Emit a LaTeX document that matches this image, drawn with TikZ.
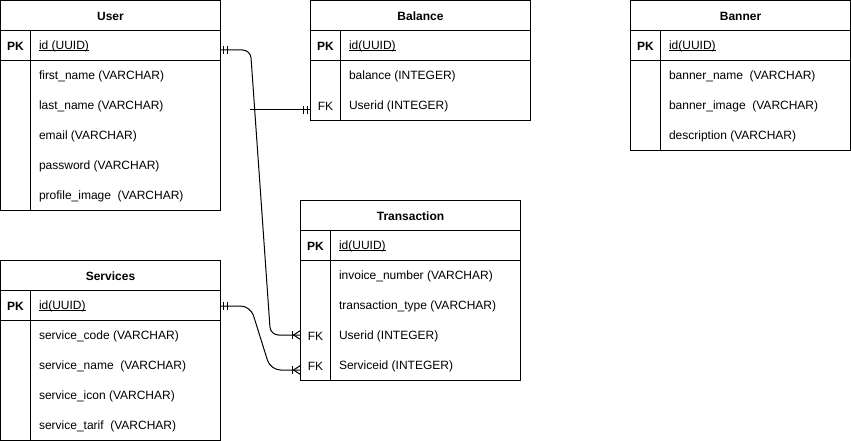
\documentclass[tikz,border=0pt]{standalone}
\usepackage{fontspec}
\setmainfont{Liberation Sans}
\usetikzlibrary{calc}

\newcommand\keyline[1]{\setbox0\hbox{#1}\rlap{\rule[-1.6pt]{\wd0}{0.8pt}}\box0}

\tikzset{
	title/.style={yshift=-1pt, font=\fontsize{12}{14}\selectfont\bfseries},
	pkey/.style={yshift=-1pt, font=\fontsize{12}{14}\selectfont\bfseries},
	fkey/.style={yshift=-1pt, font=\fontsize{12}{14}\selectfont},
	field/.style={yshift=-1pt, anchor=west, inner sep=0pt, font=\fontsize{12}{14}\selectfont},
	link/.style={rounded corners=8pt},
}

\begin{document}
\begin{tikzpicture}[x=1pt, y=-1pt, line width=1pt]
\useasboundingbox (0, 0) rectangle (851, 441);

% User
\draw (0.5, 0.5) rectangle (220.5, 210.5);
\draw (0.5, 30.5) -- (220.5, 30.5);
\draw (0.5, 60.5) -- (220.5, 60.5);
\draw (30.5, 30.5) -- (30.5, 210.5);
\node[title] (user) at (110.5, 15.5) {User};
\node[pkey] (user-pk) at (15.5, 45.5) {PK};
\node[field] (user-id) at (38.5, 45.5) {\keyline{id (UUID)}};
\foreach \t [count=\i] in {first\_name (VARCHAR), last\_name (VARCHAR), email (VARCHAR), password (VARCHAR), profile\_image\ \ (VARCHAR)}
	\node[field] (user-f\i) at (38.5, 45.5 + 30*\i) {\t};

% Balance
\draw (310.5, 0.5) rectangle (530.5, 120.5);
\draw (310.5, 30.5) -- (530.5, 30.5);
\draw (310.5, 60.5) -- (530.5, 60.5);
\draw (340.5, 30.5) -- (340.5, 120.5);
\node[title] (balance) at (420.5, 15.5) {Balance};
\node[pkey] (balance-pk) at (325.5, 45.5) {PK};
\node[field] (balance-id) at (348.5, 45.5) {\keyline{id(UUID)}};
\foreach \t [count=\i] in {balance (INTEGER), Userid (INTEGER)}
	\node[field] (balance-f\i) at (348.5, 45.5 + 30*\i) {\t};
\node[fkey] (balance-fk) at (325.5, 105.5) {FK};

% Banner
\draw (630.5, 0.5) rectangle (850.5, 150.5);
\draw (630.5, 30.5) -- (850.5, 30.5);
\draw (630.5, 60.5) -- (850.5, 60.5);
\draw (660.5, 30.5) -- (660.5, 150.5);
\node[title] (banner) at (740.5, 15.5) {Banner};
\node[pkey] (banner-pk) at (645.5, 45.5) {PK};
\node[field] (banner-id) at (668.5, 45.5) {\keyline{id(UUID)}};
\foreach \t [count=\i] in {banner\_name\ \ (VARCHAR), banner\_image\ \ (VARCHAR), description (VARCHAR)}
	\node[field] (banner-f\i) at (668.5, 45.5 + 30*\i) {\t};

% Transaction
\draw (300.5, 200.5) rectangle (520.5, 380.5);
\draw (300.5, 230.5) -- (520.5, 230.5);
\draw (300.5, 260.5) -- (520.5, 260.5);
\draw (330.5, 230.5) -- (330.5, 380.5);
\node[title] (trans) at (410.5, 215.5) {Transaction};
\node[pkey] (trans-pk) at (315.5, 245.5) {PK};
\node[field] (trans-id) at (338.5, 245.5) {\keyline{id(UUID)}};
\foreach \t [count=\i] in {invoice\_number (VARCHAR), transaction\_type (VARCHAR), Userid (INTEGER), Serviceid (INTEGER)}
	\node[field] (trans-f\i) at (338.5, 245.5 + 30*\i) {\t};
\node[fkey] (trans-fk1) at (315.5, 335.5) {FK};
\node[fkey] (trans-fk2) at (315.5, 365.5) {FK};

% Services
\draw (0.5, 260.5) rectangle (220.5, 440.5);
\draw (0.5, 290.5) -- (220.5, 290.5);
\draw (0.5, 320.5) -- (220.5, 320.5);
\draw (30.5, 290.5) -- (30.5, 440.5);
\node[title] (serv) at (110.5, 275.5) {Services};
\node[pkey] (serv-pk) at (15.5, 305.5) {PK};
\node[field] (serv-id) at (38.5, 305.5) {\keyline{id(UUID)}};
\foreach \t [count=\i] in {service\_code (VARCHAR), service\_name\ \ (VARCHAR), service\_icon (VARCHAR), service\_tarif\ \ (VARCHAR)}
	\node[field] (serv-f\i) at (38.5, 305.5 + 30*\i) {\t};

% connector ends
\coordinate (user-id-e) at (220.5, 50);
\coordinate (serv-id-e) at (220.5, 306);
\coordinate (trans-userid-w) at (300.5, 335);
\coordinate (trans-servid-w) at (300.5, 370);
\coordinate (balance-userid-w) at (310.5, 110);
\coordinate (balance-free) at (250, 110);

% User - Balance
\draw (balance-free) -- (balance-userid-w);
\draw ($(balance-userid-w) + (-3, -4)$) -- ++(0, 8);
\draw ($(balance-userid-w) + (-7, -4)$) -- ++(0, 8);

% User - Transaction
\draw[link] (user-id-e) -- ++(30, 0) -- ($(trans-userid-w) + (-30, 0)$) -- (trans-userid-w);
\draw ($(user-id-e) + (3, -4)$) -- ++(0, 8);
\draw ($(user-id-e) + (7, -4)$) -- ++(0, 8);
\draw ($(trans-userid-w) + (-8, -4)$) -- ++(0, 8);
\draw ($(trans-userid-w) + (0, -4.5)$) -- ($(trans-userid-w) + (-7, 0)$) -- ($(trans-userid-w) + (0, 4.5)$);

% Services - Transaction
\draw[link, rounded corners=10pt] (serv-id-e) -- ++(30, 0) -- ($(trans-servid-w) + (-30, 0)$) -- (trans-servid-w);
\draw ($(serv-id-e) + (3, -4)$) -- ++(0, 8);
\draw ($(serv-id-e) + (7, -4)$) -- ++(0, 8);
\draw ($(trans-servid-w) + (-8, -4)$) -- ++(0, 8);
\draw ($(trans-servid-w) + (0, -4.5)$) -- ($(trans-servid-w) + (-7, 0)$) -- ($(trans-servid-w) + (0, 4.5)$);
\end{tikzpicture}
\end{document}
